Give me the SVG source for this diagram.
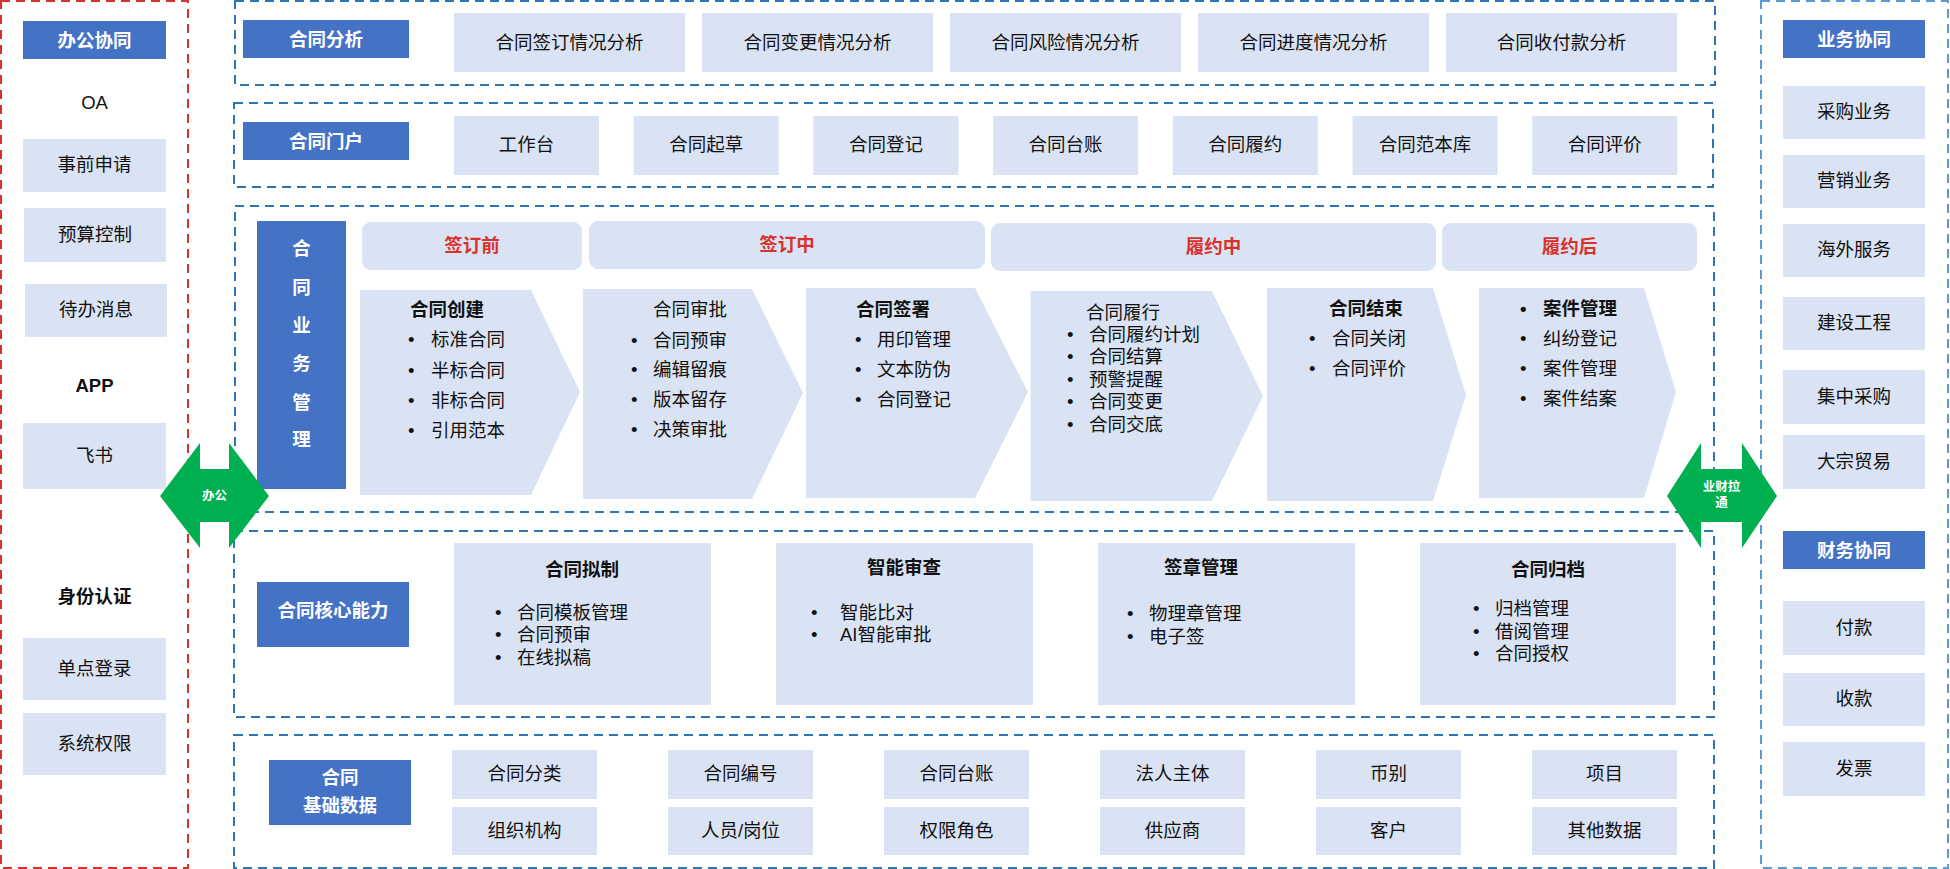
<svg xmlns="http://www.w3.org/2000/svg" width="1950" height="869" viewBox="0 0 1950 869">
<style>
text{font-family:"Liberation Sans","Noto Sans CJK SC",sans-serif;font-size:18.5px;fill:#111;dominant-baseline:central}
.c{text-anchor:middle}
.b{font-weight:bold}
.w{fill:#fff;font-weight:bold}
.r{fill:#d9312b;font-weight:bold}
.box{fill:#dae3f3}
.hdr{fill:#4472c4}
.dash{fill:none;stroke:#2e75b6;stroke-width:2;stroke-dasharray:9 6}
.rdash{fill:none;stroke:#d9312b;stroke-width:2;stroke-dasharray:9 6}
.ldash{fill:none;stroke:#5b9bd5;stroke-width:2;stroke-dasharray:9 6}
.arr{fill:#00b050}
.g{fill:#fff;font-weight:bold;font-size:12.5px}
</style>
<rect width="1950" height="869" fill="#fff"/>

<!-- Left panel: 办公协同 -->
<g id="office">
<rect class="rdash" x="1" y="1" width="187" height="867"/>
<rect class="hdr" x="23" y="21" width="143" height="38"/><text class="c w" x="94.5" y="40">办公协同</text>
<text class="c" x="94.5" y="102">OA</text>
<rect class="box" x="23" y="139" width="143" height="53"/><text class="c" x="94.5" y="164">事前申请</text>
<rect class="box" x="24" y="208" width="142" height="54"/><text class="c" x="95" y="234">预算控制</text>
<rect class="box" x="25" y="284" width="142" height="53"/><text class="c" x="96" y="309">待办消息</text>
<text class="c b" x="94.5" y="385">APP</text>
<rect class="box" x="23" y="423" width="143" height="66"/><text class="c" x="94.5" y="455">飞书</text>
<text class="c b" x="94.5" y="596">身份认证</text>
<rect class="box" x="23" y="638" width="143" height="62"/><text class="c" x="94.5" y="668">单点登录</text>
<rect class="box" x="23" y="713" width="143" height="62"/><text class="c" x="94.5" y="743">系统权限</text>
</g>

<!-- Right panel: 业务协同 / 财务协同 -->
<g id="business">
<rect class="ldash" x="1761" y="1" width="187" height="867"/>
<rect class="hdr" x="1783" y="20" width="142" height="38"/><text class="c w" x="1854" y="39">业务协同</text>
<rect class="box" x="1783" y="86" width="142" height="53"/><text class="c" x="1854" y="111">采购业务</text>
<rect class="box" x="1783" y="155" width="142" height="53"/><text class="c" x="1854" y="180">营销业务</text>
<rect class="box" x="1783" y="224" width="142" height="53"/><text class="c" x="1854" y="249">海外服务</text>
<rect class="box" x="1783" y="297" width="142" height="53"/><text class="c" x="1854" y="322">建设工程</text>
<rect class="box" x="1783" y="370" width="142" height="54"/><text class="c" x="1854" y="396">集中采购</text>
<rect class="box" x="1783" y="435" width="142" height="54"/><text class="c" x="1854" y="461">大宗贸易</text>
<rect class="hdr" x="1783" y="531" width="142" height="38"/><text class="c w" x="1854" y="550">财务协同</text>
<rect class="box" x="1783" y="601" width="142" height="54"/><text class="c" x="1854" y="627">付款</text>
<rect class="box" x="1783" y="673" width="142" height="53"/><text class="c" x="1854" y="698">收款</text>
<rect class="box" x="1783" y="742" width="142" height="54"/><text class="c" x="1854" y="768">发票</text>
</g>

<!-- 合同分析 -->
<g id="analysis">
<rect class="dash" x="235" y="1" width="1480" height="84"/>
<rect class="hdr" x="243" y="20" width="166" height="38"/><text class="c w" x="326" y="39">合同分析</text>
<rect class="box" x="454" y="13" width="231" height="59"/><text class="c" x="569.5" y="42">合同签订情况分析</text>
<rect class="box" x="702" y="13" width="231" height="59"/><text class="c" x="817.5" y="42">合同变更情况分析</text>
<rect class="box" x="950" y="13" width="231" height="59"/><text class="c" x="1065.5" y="42">合同风险情况分析</text>
<rect class="box" x="1198" y="13" width="231" height="59"/><text class="c" x="1313.5" y="42">合同进度情况分析</text>
<rect class="box" x="1446" y="13" width="231" height="59"/><text class="c" x="1561.5" y="42">合同收付款分析</text>
</g>

<!-- 合同门户 -->
<g id="portal">
<rect class="dash" x="234" y="103" width="1479" height="84"/>
<rect class="hdr" x="243" y="122" width="166" height="38"/><text class="c w" x="326" y="141">合同门户</text>
<rect class="box" x="454" y="116" width="145" height="59"/><text class="c" x="526.5" y="144">工作台</text>
<rect class="box" x="633.7" y="116" width="145" height="59"/><text class="c" x="706.2" y="144">合同起草</text>
<rect class="box" x="813.4" y="116" width="145" height="59"/><text class="c" x="885.9" y="144">合同登记</text>
<rect class="box" x="993.1" y="116" width="145" height="59"/><text class="c" x="1065.6" y="144">合同台账</text>
<rect class="box" x="1172.8" y="116" width="145" height="59"/><text class="c" x="1245.3" y="144">合同履约</text>
<rect class="box" x="1352.5" y="116" width="145" height="59"/><text class="c" x="1425" y="144">合同范本库</text>
<rect class="box" x="1532.2" y="116" width="145" height="59"/><text class="c" x="1604.7" y="144">合同评价</text>
</g>

<!-- 合同业务管理 -->
<g id="business-mgmt">
<rect class="dash" x="235" y="206" width="1479" height="306"/>
<rect class="hdr" x="257" y="221" width="89" height="268"/>
<text class="c w" x="301.5" y="248">合</text>
<text class="c w" x="301.5" y="287">同</text>
<text class="c w" x="301.5" y="325">业</text>
<text class="c w" x="301.5" y="363">务</text>
<text class="c w" x="301.5" y="402">管</text>
<text class="c w" x="301.5" y="439">理</text>
<rect class="box" x="362" y="222" width="220" height="48" rx="9"/><text class="c r" x="472" y="245">签订前</text>
<rect class="box" x="589" y="221" width="396" height="48" rx="9"/><text class="c r" x="787" y="244">签订中</text>
<rect class="box" x="991" y="223" width="445" height="48" rx="9"/><text class="c r" x="1213.5" y="246">履约中</text>
<rect class="box" x="1442" y="223" width="255" height="48" rx="9"/><text class="c r" x="1569.5" y="246">履约后</text>
</g>

<g id="stage-create">
<polygon class="box" points="360,290 531,290 580,392 531,495 360,495"/>
<text class="b" x="410" y="309">合同创建</text>
<text y="339"><tspan x="408">•</tspan><tspan x="431">标准合同</tspan></text>
<text y="370"><tspan x="408">•</tspan><tspan x="431">半标合同</tspan></text>
<text y="400"><tspan x="408">•</tspan><tspan x="431">非标合同</tspan></text>
<text y="430"><tspan x="408">•</tspan><tspan x="431">引用范本</tspan></text>
</g>

<g id="stage-approve">
<polygon class="box" points="583,289 752,289 803,393 752,499 583,499"/>
<text x="653" y="309">合同审批</text>
<text y="340"><tspan x="631">•</tspan><tspan x="653">合同预审</tspan></text>
<text y="369"><tspan x="631">•</tspan><tspan x="653">编辑留痕</tspan></text>
<text y="399"><tspan x="631">•</tspan><tspan x="653">版本留存</tspan></text>
<text y="429"><tspan x="631">•</tspan><tspan x="653">决策审批</tspan></text>
</g>

<g id="stage-sign">
<polygon class="box" points="806,288 975,288 1028,392 975,498 806,498"/>
<text class="b" x="856" y="309">合同签署</text>
<text y="339"><tspan x="855">•</tspan><tspan x="877">用印管理</tspan></text>
<text y="369"><tspan x="855">•</tspan><tspan x="877">文本防伪</tspan></text>
<text y="399"><tspan x="855">•</tspan><tspan x="877">合同登记</tspan></text>
</g>

<g id="stage-perform">
<polygon class="box" points="1030.5,291 1212,291 1263,396 1212,501 1030.5,501"/>
<text x="1086" y="312">合同履行</text>
<text y="334"><tspan x="1067">•</tspan><tspan x="1089">合同履约计划</tspan></text>
<text y="356"><tspan x="1067">•</tspan><tspan x="1089">合同结算</tspan></text>
<text y="379"><tspan x="1067">•</tspan><tspan x="1089">预警提醒</tspan></text>
<text y="401"><tspan x="1067">•</tspan><tspan x="1089">合同变更</tspan></text>
<text y="424"><tspan x="1067">•</tspan><tspan x="1089">合同交底</tspan></text>
</g>

<g id="stage-close">
<polygon class="box" points="1267,288 1433,288 1466,395 1433,501 1267,501"/>
<text class="c b" x="1366" y="308">合同结束</text>
<text y="338"><tspan x="1309">•</tspan><tspan x="1332">合同关闭</tspan></text>
<text y="368"><tspan x="1309">•</tspan><tspan x="1332">合同评价</tspan></text>
</g>

<g id="stage-case">
<polygon class="box" points="1479,288 1644,288 1676,392 1644,498 1479,498"/>
<text class="b" y="308"><tspan x="1520">•</tspan><tspan x="1543">案件管理</tspan></text>
<text y="338"><tspan x="1520">•</tspan><tspan x="1543">纠纷登记</tspan></text>
<text y="368"><tspan x="1520">•</tspan><tspan x="1543">案件管理</tspan></text>
<text y="398"><tspan x="1520">•</tspan><tspan x="1543">案件结案</tspan></text>
</g>

<!-- 合同核心能力 -->
<g id="core">
<rect class="dash" x="234" y="531" width="1480" height="186"/>
<rect class="hdr" x="257" y="582" width="152" height="65"/><text class="c w" x="333" y="610">合同核心能力</text>
</g>
<g id="core-draft">
<rect class="box" x="454" y="543" width="257" height="162"/>
<text class="c b" x="582" y="569">合同拟制</text>
<text y="612"><tspan x="495">•</tspan><tspan x="517">合同模板管理</tspan></text>
<text y="634"><tspan x="495">•</tspan><tspan x="517">合同预审</tspan></text>
<text y="657"><tspan x="495">•</tspan><tspan x="517">在线拟稿</tspan></text>
</g>
<g id="core-review">
<rect class="box" x="776" y="543" width="257" height="162"/>
<text class="c b" x="904" y="567">智能审查</text>
<text y="612"><tspan x="811">•</tspan><tspan x="840">智能比对</tspan></text>
<text y="634"><tspan x="811">•</tspan><tspan x="840">AI智能审批</tspan></text>
</g>
<g id="core-seal">
<rect class="box" x="1098" y="543" width="257" height="162"/>
<text class="c b" x="1201" y="567">签章管理</text>
<text y="613"><tspan x="1127">•</tspan><tspan x="1149">物理章管理</tspan></text>
<text y="636"><tspan x="1127">•</tspan><tspan x="1149">电子签</tspan></text>
</g>
<g id="core-archive">
<rect class="box" x="1420" y="543" width="256" height="162"/>
<text class="c b" x="1548" y="569">合同归档</text>
<text y="608"><tspan x="1473">•</tspan><tspan x="1495">归档管理</tspan></text>
<text y="631"><tspan x="1473">•</tspan><tspan x="1495">借阅管理</tspan></text>
<text y="653"><tspan x="1473">•</tspan><tspan x="1495">合同授权</tspan></text>
</g>

<!-- 合同基础数据 -->
<g id="master-data">
<rect class="dash" x="234" y="735" width="1480" height="133"/>
<rect class="hdr" x="269" y="760" width="142" height="65"/>
<text class="c w" x="340" y="777">合同</text>
<text class="c w" x="340" y="805">基础数据</text>
<rect class="box" x="452" y="750" width="145" height="49"/><text class="c" x="524.5" y="773">合同分类</text>
<rect class="box" x="668" y="750" width="145" height="49"/><text class="c" x="740.5" y="773">合同编号</text>
<rect class="box" x="884" y="750" width="145" height="49"/><text class="c" x="956.5" y="773">合同台账</text>
<rect class="box" x="1100" y="750" width="145" height="49"/><text class="c" x="1172.5" y="773">法人主体</text>
<rect class="box" x="1316" y="750" width="145" height="49"/><text class="c" x="1388.5" y="773">币别</text>
<rect class="box" x="1532" y="750" width="145" height="49"/><text class="c" x="1604.5" y="773">项目</text>
<rect class="box" x="452" y="807" width="145" height="48"/><text class="c" x="524.5" y="830">组织机构</text>
<rect class="box" x="668" y="807" width="145" height="48"/><text class="c" x="740.5" y="830">人员/岗位</text>
<rect class="box" x="884" y="807" width="145" height="48"/><text class="c" x="956.5" y="830">权限角色</text>
<rect class="box" x="1100" y="807" width="145" height="48"/><text class="c" x="1172.5" y="830">供应商</text>
<rect class="box" x="1316" y="807" width="145" height="48"/><text class="c" x="1388.5" y="830">客户</text>
<rect class="box" x="1532" y="807" width="145" height="48"/><text class="c" x="1604.5" y="830">其他数据</text>
</g>

<!-- Connectors: green double arrows -->
<g id="connectors">
<g id="arrow-office">
<polygon class="arr" points="160,496 200,443 200,469 229,469 229,443 269,496 229,548 229,522 200,522 200,548"/>
<text class="c g" x="214.5" y="496">办公</text>
</g>
<g id="arrow-finance">
<polygon class="arr" points="1667,496 1701,443 1701,469 1742,469 1742,443 1777,496 1742,548 1742,522 1701,522 1701,548"/>
<text class="c g" x="1721.5" y="487">业财拉</text>
<text class="c g" x="1721.5" y="503">通</text>
</g>
</g>
</svg>
